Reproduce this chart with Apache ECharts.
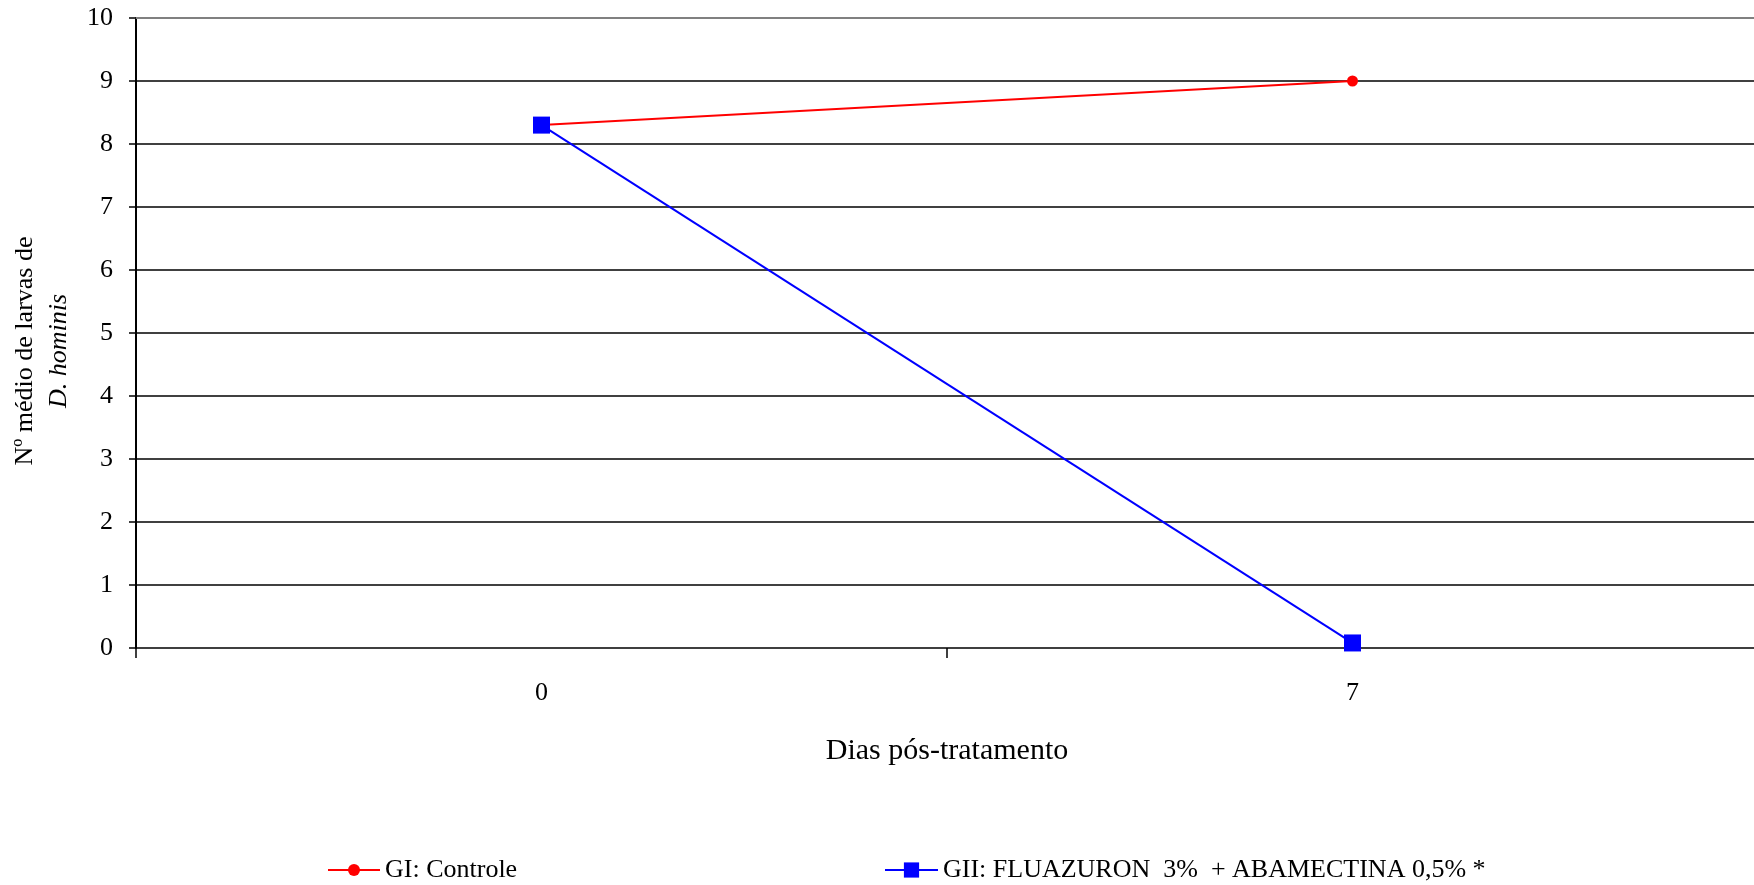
<!DOCTYPE html>
<html>
<head>
<meta charset="utf-8">
<script src="https://cdn.jsdelivr.net/npm/echarts@6/dist/echarts.min.js"></script>
<style>
html,body{margin:0;padding:0;background:#fff;}
#chart{width:1754px;height:885px;}
</style>
</head>
<body>
<div id="chart"></div>
<script>
const categories = ['0', '7'];
const seriesNames = ['GI: Controle', 'GII: FLUAZURON  3%  + ABAMECTINA 0,5% *'];
const controle = [8.3, 9.0];
const fluazuron = [8.3, 0.08];
const yMin = 0, yMax = 10, yInterval = 1;
const xAxisTitle = 'Dias pós-tratamento';
const yAxisTitleLine1 = 'Nº médio de larvas de';
const yAxisTitleLine2 = 'D. hominis';

const FONT = '"Liberation Serif", "Times New Roman", serif';
const chart = echarts.init(document.getElementById('chart'), null, {renderer: 'canvas'});

chart.setOption({
  backgroundColor: '#ffffff',
  animation: false,
  textStyle: {fontFamily: FONT, color: '#000'},
  grid: {
    left: 136, top: 18, width: 1622, height: 630, show: false,
    outerBoundsMode: 'none', containLabel: false
  },
  legend: [
    {
      data: [seriesNames[0]], left: 327, top: 856, padding: 0,
      itemWidth: 52, itemHeight: 15, itemGap: 6,
      textStyle: {fontFamily: FONT, fontSize: 26, color: '#000', lineHeight: 28}
    },
    {
      data: [seriesNames[1]], left: 884, top: 856, padding: 0,
      itemWidth: 53, itemHeight: 19, itemGap: 6,
      textStyle: {fontFamily: FONT, fontSize: 26, color: '#000', lineHeight: 28}
    }
  ],
  xAxis: [
    {
      type: 'category',
      data: categories,
      boundaryGap: true,
      name: xAxisTitle,
      nameLocation: 'middle',
      nameGap: 88,
      nameTextStyle: {fontFamily: FONT, fontSize: 30, color: '#000'},
      axisLine: {show: true, lineStyle: {color: '#000', width: 1.5}},
      axisTick: {show: true, length: 10, lineStyle: {color: '#000', width: 1.5}},
      axisLabel: {margin: 32, fontFamily: FONT, fontSize: 26, color: '#000'},
      splitLine: {show: false}
    },
    {
      type: 'category',
      data: categories,
      position: 'top',
      boundaryGap: true,
      axisLine: {show: true, lineStyle: {color: '#808080', width: 2}},
      axisTick: {show: false},
      axisLabel: {show: false},
      splitLine: {show: false}
    }
  ],
  yAxis: {
    type: 'value',
    min: yMin, max: yMax, interval: yInterval,
    name: '{a|' + yAxisTitleLine1 + '}\n{b|' + yAxisTitleLine2 + '}',
    nameLocation: 'middle',
    nameRotate: 90,
    nameGap: 56,
    nameTextStyle: {
      fontFamily: FONT, fontSize: 26, color: '#000', lineHeight: 34,
      padding: [0, 36, 0, 0],
      rich: {
        a: {fontFamily: FONT, fontSize: 26, color: '#000', lineHeight: 34},
        b: {fontFamily: FONT, fontSize: 26, color: '#000', fontStyle: 'italic', lineHeight: 34}
      }
    },
    axisLine: {show: true, lineStyle: {color: '#000', width: 2}},
    axisTick: {show: true, length: 7, lineStyle: {color: '#000', width: 1.5}},
    axisLabel: {margin: 23, fontFamily: FONT, fontSize: 26, color: '#000'},
    splitLine: {show: true, showMinLine: false, showMaxLine: false, lineStyle: {color: '#000', width: 1.5}}
  },
  series: [
    {
      name: seriesNames[0],
      type: 'line',
      xAxisIndex: 0,
      data: controle,
      symbol: 'circle',
      symbolSize: 11,
      itemStyle: {color: '#ff0000'},
      lineStyle: {color: '#ff0000', width: 2}
    },
    {
      name: seriesNames[1],
      type: 'line',
      xAxisIndex: 0,
      data: fluazuron,
      symbol: 'rect',
      symbolSize: 17,
      itemStyle: {color: '#0000ff'},
      lineStyle: {color: '#0000ff', width: 2}
    }
  ]
});
</script>
</body>
</html>
